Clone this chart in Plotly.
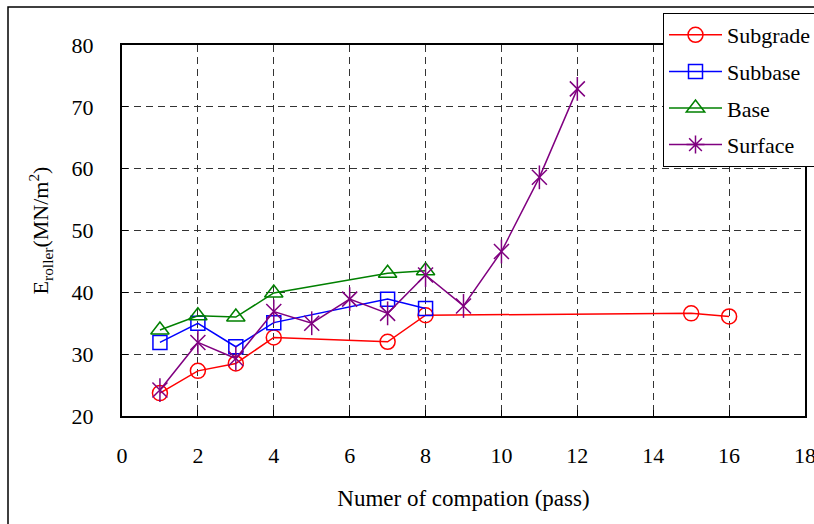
import plotly.graph_objects as go

# Deformation modulus measured by the roller for each pavement layer
subgrade_pass = [1, 2, 3, 4, 7, 8, 15, 16]
subgrade_e = [23.7, 27.3, 28.5, 32.7, 32.0, 36.3, 36.6, 36.1]

subbase_pass = [1, 2, 3, 4, 7, 8]
subbase_e = [31.9, 35.0, 31.2, 35.1, 38.9, 37.4]

base_pass = [1, 2, 3, 4, 7, 8]
base_e = [33.9, 36.2, 36.0, 39.9, 43.1, 43.5]

surface_pass = [1, 2, 3, 4, 5, 6, 7, 8, 9, 10, 11, 12]
surface_e = [24.2, 31.9, 29.3, 36.9, 35.0, 38.9, 36.6, 42.8, 37.8, 46.6, 58.6, 72.9]

x_ticks = [0, 2, 4, 6, 8, 10, 12, 14, 16, 18]
y_ticks = [20, 30, 40, 50, 60, 70, 80]

FONT = "Liberation Serif"
W, H = 814, 524
L, R, T, B = 122, 9, 45, 108
PW, PH = W - L - R, H - T - B

fig = go.Figure()

fig.add_trace(go.Scatter(
    x=subgrade_pass, y=subgrade_e, name="Subgrade", mode="lines+markers", legendgroup="g1",
    line=dict(color="#FF0000", width=1.5),
    marker=dict(symbol="circle-open", size=15, color="#FF0000", line=dict(width=1.5)),
))
fig.add_trace(go.Scatter(
    x=subbase_pass, y=subbase_e, name="Subbase", mode="lines+markers", legendgroup="g2",
    line=dict(color="#0000FF", width=1.5),
    marker=dict(symbol="square-open", size=14, color="#0000FF", line=dict(width=1.5)),
))
fig.add_trace(go.Scatter(
    x=base_pass, y=base_e, name="Base", mode="lines+markers", legendgroup="g3",
    line=dict(color="#008000", width=1.5),
    marker=dict(symbol="triangle-up-open", size=16, color="#008000", line=dict(width=1.5)),
))
# Six-armed star marker: an X plus a vertical bar
fig.add_trace(go.Scatter(
    x=surface_pass, y=surface_e, name="Surface", mode="lines+markers",
    line=dict(color="#800080", width=1.5), legendgroup="g4", showlegend=False,
    marker=dict(symbol="x-thin-open", size=15, color="#800080", line=dict(width=1.5)),
))
fig.add_trace(go.Scatter(
    x=surface_pass, y=surface_e, name="Surface", mode="markers", legendgroup="g4", showlegend=False,
    marker=dict(symbol="line-ns-open", size=17, color="#800080", line=dict(width=1.5)),
))
fig.add_trace(go.Scatter(
    x=[None], y=[None], name="Surface", mode="lines+markers", legendgroup="g4",
    line=dict(color="#800080", width=1.5),
    marker=dict(symbol="asterisk-open", size=15, color="#800080", line=dict(width=1.5)),
))

axis_common = dict(
    showline=True, linecolor="black", linewidth=2, mirror=True,
    ticks="inside", ticklen=6, tickcolor="black",
    showgrid=True, gridcolor="#333333", gridwidth=1, griddash="7px,5px",
    zeroline=False, tickfont=dict(family=FONT, size=22, color="black"),
    ticklabeloverflow="allow",
)

fig.update_xaxes(
    range=[0, 18], tickvals=x_ticks, ticklabelstandoff=19,
    title=dict(text="Numer of compation (pass)", font=dict(family=FONT, size=23, color="black"), standoff=22),
    **axis_common,
)
fig.update_yaxes(
    range=[20, 80], tickvals=y_ticks, ticklabelstandoff=22,
    title=dict(text="E<sub>roller</sub>(MN/m<sup>2</sup>)", font=dict(family=FONT, size=22, color="black"), standoff=17),
    **axis_common,
)

# Outer frame around the whole figure
fig.add_shape(
    type="rect", xref="paper", yref="paper", layer="above",
    x0=(8 - L) / PW, x1=(W + 10 - L) / PW,
    y0=-(B + 10) / PH, y1=(H - 7 - B) / PH,
    line=dict(color="black", width=1.5), fillcolor="rgba(0,0,0,0)",
)

fig.update_layout(
    width=W, height=H,
    margin=dict(l=L, r=R, t=T, b=B, autoexpand=False),
    paper_bgcolor="white", plot_bgcolor="white",
    font=dict(family=FONT, color="black"),
    legend=dict(
        x=(663 - L) / PW, y=(H - 13 - B) / PH, xanchor="left", yanchor="top",
        bgcolor="white", bordercolor="black", borderwidth=1,
        font=dict(family=FONT, size=22, color="black"),
        itemwidth=53, traceorder="grouped", tracegroupgap=5,
        entrywidth=125,
    ),
)

fig.write_html("out.html")
